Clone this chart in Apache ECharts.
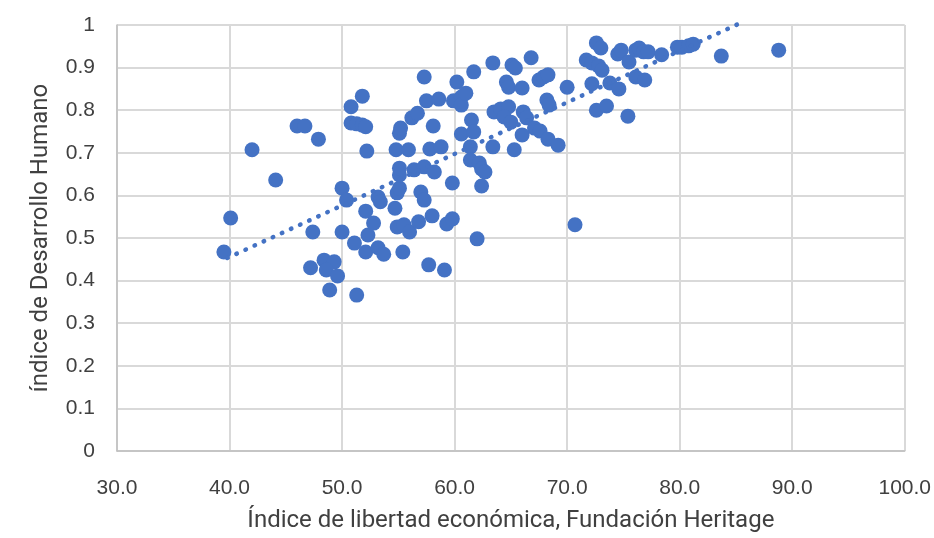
<!DOCTYPE html>
<html>
<head>
<meta charset="utf-8">
<script src="https://cdn.jsdelivr.net/npm/echarts@6/dist/echarts.min.js"></script>
<style>
  html, body { margin: 0; padding: 0; background: #fff; }
  #chart { width: 934px; height: 538px; }
</style>
</head>
<body>
<div id="chart"></div>
<script>
// Índice de libertad económica (x) vs Índice de Desarrollo Humano (y)
const libertad = [
  39.5, 40.1, 42.0, 44.1, 46.0, 46.7, 47.9, 47.4, 47.2, 48.4,
  49.3, 48.6, 49.6, 48.9, 50.0, 50.4, 50.0, 51.1, 51.3, 50.8,
  50.8, 51.3, 51.8, 52.1, 51.8, 52.2, 52.1, 52.3, 52.1, 52.8,
  53.2, 53.4, 53.2, 53.7, 54.7, 54.9, 55.1, 55.1, 55.1, 55.1,
  55.2, 54.8, 54.9, 55.5, 56.0, 56.8, 55.4, 55.9, 56.2, 56.7,
  56.4, 57.3, 58.2, 57.0, 57.3, 57.3, 57.5, 57.8, 58.1, 58.0,
  57.7, 58.6, 58.8, 59.1, 59.3, 59.8, 59.8, 59.9, 60.2, 60.6,
  60.6, 61.0, 60.6, 61.5, 61.4, 61.7, 61.4, 61.7, 62.0, 62.2,
  62.4, 62.7, 62.4, 63.4, 63.5, 63.4, 64.1, 64.8, 64.4, 65.0,
  64.6, 64.8, 65.1, 65.4, 65.3, 66.0, 66.1, 66.0, 66.8, 66.4,
  67.1, 67.5, 67.9, 68.3, 67.6, 68.2, 68.4, 68.3, 69.2, 70.0,
  70.7, 71.7, 72.2, 72.6, 73.0, 72.8, 73.1, 72.2, 72.6, 73.5,
  73.8, 74.5, 74.8, 74.6, 75.4, 75.5, 76.1, 76.1, 76.4, 76.8,
  76.9, 77.2, 78.4, 79.8, 80.2, 80.8, 81.2, 83.7, 88.8
];
const desarrollo = [
  0.467, 0.547, 0.707, 0.636, 0.763, 0.763, 0.732, 0.514, 0.430, 0.448,
  0.444, 0.425, 0.411, 0.378, 0.617, 0.589, 0.514, 0.488, 0.366, 0.808,
  0.770, 0.768, 0.765, 0.761, 0.833, 0.704, 0.563, 0.507, 0.467, 0.535,
  0.596, 0.585, 0.477, 0.462, 0.570, 0.606, 0.617, 0.648, 0.664, 0.746,
  0.758, 0.707, 0.526, 0.531, 0.514, 0.538, 0.467, 0.707, 0.782, 0.793,
  0.660, 0.667, 0.655, 0.608, 0.589, 0.878, 0.822, 0.709, 0.763, 0.552,
  0.437, 0.826, 0.714, 0.425, 0.533, 0.629, 0.545, 0.822, 0.866, 0.831,
  0.812, 0.840, 0.744, 0.777, 0.714, 0.749, 0.683, 0.890, 0.498, 0.676,
  0.662, 0.655, 0.622, 0.911, 0.796, 0.714, 0.803, 0.808, 0.784, 0.772,
  0.866, 0.854, 0.906, 0.899, 0.707, 0.852, 0.796, 0.742, 0.923, 0.782,
  0.758, 0.871, 0.878, 0.883, 0.751, 0.824, 0.812, 0.732, 0.718, 0.854,
  0.531, 0.918, 0.911, 0.958, 0.946, 0.904, 0.894, 0.862, 0.800, 0.810,
  0.864, 0.932, 0.941, 0.850, 0.786, 0.913, 0.878, 0.941, 0.946, 0.937,
  0.871, 0.937, 0.930, 0.948, 0.948, 0.951, 0.955, 0.927, 0.941
];
// tendencia lineal (extremos)
const trendX = [39.8, 85.6];
const trendY = [0.453, 1.007];

const xTitle = 'Índice de libertad económica, Fundación Heritage';
const yTitle = 'índice de Desarrollo Humano';

const titleFont = 'Roboto';
const tickFont = 'Liberation Sans';

const chart = echarts.init(document.getElementById('chart'));
chart.setOption({
  animation: false,
  grid: { left: 117, right: 27, top: 25, bottom: 87 },
  xAxis: {
    type: 'value',
    min: 30,
    max: 100,
    interval: 10,
    name: xTitle,
    nameLocation: 'middle',
    nameGap: 58,
    nameTextStyle: { fontFamily: titleFont, fontSize: 24, color: '#404040' },
    axisLine: { show: true, lineStyle: { color: '#bfbfbf', width: 1.5 } },
    axisTick: { show: false },
    axisLabel: {
      margin: 27,
      fontFamily: tickFont,
      fontSize: 21,
      color: '#404040',
      formatter: v => v.toFixed(1)
    },
    splitLine: { show: true, lineStyle: { color: '#d9d9d9', width: 2 } }
  },
  yAxis: {
    type: 'value',
    min: 0,
    max: 1,
    interval: 0.1,
    name: yTitle,
    nameLocation: 'middle',
    nameGap: 64,
    nameTextStyle: { fontFamily: titleFont, fontSize: 24, color: '#404040' },
    axisLine: { show: true, lineStyle: { color: '#bfbfbf', width: 1.5 } },
    axisTick: { show: false },
    axisLabel: {
      margin: 22,
      fontFamily: tickFont,
      fontSize: 21,
      color: '#404040',
      formatter: v => String(Math.round(v * 10) / 10)
    },
    splitLine: { show: true, lineStyle: { color: '#d9d9d9', width: 2 } }
  },
  series: [
    {
      type: 'scatter',
      symbolSize: 15,
      itemStyle: { color: '#4472c4', opacity: 1 },
      data: libertad.map((x, i) => [x, desarrollo[i]])
    },
    {
      type: 'line',
      clip: false,
      symbol: 'none',
      lineStyle: { color: '#4472c4', width: 4.5, type: [0.5, 9.5], cap: 'round' },
      data: trendX.map((x, i) => [x, trendY[i]])
    }
  ]
});
</script>
</body>
</html>
